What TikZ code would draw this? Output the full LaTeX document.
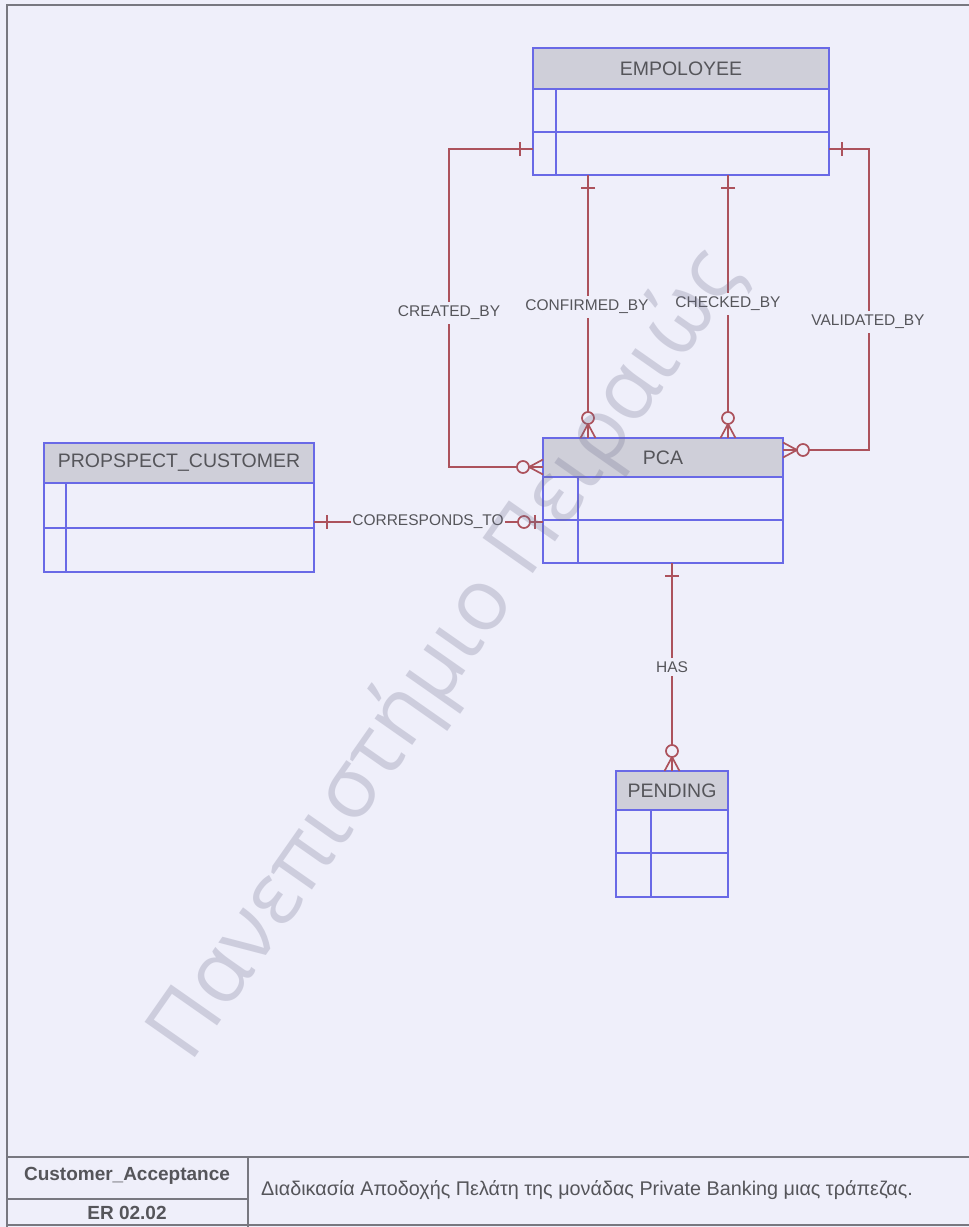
\documentclass[tikz,border=0pt]{standalone}
\usepackage{fontspec}
\setmainfont{Liberation Sans}
\newfontfamily\wmfont{Open Sans}
\usetikzlibrary{calc}
\definecolor{bgcol}{RGB}{239,239,250}
\definecolor{entblue}{RGB}{105,105,230}
\definecolor{hdrgray}{RGB}{207,207,217}
\definecolor{connred}{RGB}{172,82,92}
\definecolor{txtgray}{RGB}{85,85,90}
\definecolor{framegray}{RGB}{120,120,128}
\definecolor{wmgray}{RGB}{110,110,140}

% entity: name, x, y, width, height, header height, row sep, divider, title
\newcommand{\erent}[9]{%
  \node[entbox, minimum width=#4pt, minimum height=#5pt, anchor=north west] (#1) at (#2,#3) {};
  \fill[hdrfill] (#1.north west) rectangle ([yshift=-#6pt]#1.north east);
  \draw[entline] ([yshift=-#6pt]#1.north west) -- ([yshift=-#6pt]#1.north east);
  \draw[entline] ([yshift=-#7pt]#1.north west) -- ([yshift=-#7pt]#1.north east);
  \draw[entline] ([xshift=#8pt,yshift=-#6pt]#1.north west) -- ([xshift=#8pt]#1.south west);
  \draw[entline] (#1.north west) rectangle (#1.south east);
  \node[enttitle] (#1-title) at ($(#1.north)!0.5!([yshift=-#6pt]#1.north)$) {#9};
}
% end symbols: point, direction (pointing away from the entity)
\newcommand{\ERone}[2]{%
  \begin{scope}[shift={(#1)},rotate=#2]
    \draw[conn] (13,-7) -- (13,7);
  \end{scope}}
\newcommand{\ERzeromany}[2]{%
  \begin{scope}[shift={(#1)},rotate=#2]
    \draw[conn] (0,-7.5) -- (14,0) -- (0,7.5);
    \draw[conn] (0,0) -- (14,0);
    \draw[conn, fill=bgcol] (20,0) circle[radius=6pt];
  \end{scope}}
\newcommand{\ERzeroone}[2]{%
  \begin{scope}[shift={(#1)},rotate=#2]
    \draw[conn] (8,-7) -- (8,7);
    \draw[conn, fill=bgcol] (19,0) circle[radius=6pt];
  \end{scope}}

\begin{document}
\begin{tikzpicture}[x=1pt,y=-1pt,
  entbox/.style={rectangle, inner sep=0pt, outer sep=0pt},
  entline/.style={draw=entblue, line width=1.3pt},
  hdrfill/.style={fill=hdrgray},
  enttitle/.style={font=\fontsize{19.5}{22}\selectfont, text=txtgray, inner sep=0pt},
  conn/.style={draw=connred, line width=1.7pt},
  rellabel/.style={font=\fontsize{15.5}{18}\selectfont, text=txtgray, fill=bgcol, inner xsep=1.5pt, inner ysep=4pt},
  frameline/.style={draw=framegray, line width=1.6pt},
  tbtext/.style={text=txtgray, inner sep=0pt},
]
\useasboundingbox (0,0) rectangle (969,1227);
\fill[bgcol] (0,0) rectangle (969,1227);

% frame and title block
\draw[frameline] (7,1227) -- (7,5) -- (969,5);
\draw[frameline] (7,1157) -- (969,1157);
\draw[frameline] (248,1157) -- (248,1227);
\draw[frameline] (7,1199) -- (248,1199);
\draw[frameline] (7,1225) -- (969,1225);

% entities
\erent{emp}{533}{48}{296}{127}{41}{84}{23}{EMPOLOYEE}
\erent{pca}{543}{438}{240}{125}{39}{82}{35}{PCA}
\erent{prop}{44}{443}{270}{129}{40}{85}{22}{PROPSPECT\_CUSTOMER}
\erent{pend}{616}{771}{112}{126}{39}{82}{35}{PENDING}

% connector end points
\coordinate (c1a) at ([yshift=26pt]emp.south west);
\coordinate (c1b) at ([yshift=-29pt]pca.north west);
\coordinate (c1k) at (449,467);
\coordinate (c2a) at ([xshift=55pt]emp.south west);
\coordinate (c2b) at (c2a |- pca.north);
\coordinate (c3a) at ([xshift=195pt]emp.south west);
\coordinate (c3b) at (c3a |- pca.north);
\coordinate (c4a) at ([yshift=26pt]emp.south east);
\coordinate (c4b) at ([yshift=-12pt]pca.north east);
\coordinate (c4k) at (869,450);
\coordinate (c5a) at ([yshift=-79pt]prop.north east);
\coordinate (c5b) at (pca.west |- c5a);
\coordinate (c6a) at ([xshift=129pt]pca.south west);
\coordinate (c6b) at (c6a |- pend.north);

% connectors
\draw[conn] (c1a) -| (c1k) -- (c1b);
\draw[conn] (c2a) -- (c2b);
\draw[conn] (c3a) -- (c3b);
\draw[conn] (c4a) -| (c4k) -- (c4b);
\draw[conn] (c5a) -- (c5b);
\draw[conn] (c6a) -- (c6b);

% cardinality marks
\ERone{c1a}{180}
\ERzeromany{c1b}{180}
\ERone{c2a}{-90}
\ERzeromany{c2b}{90}
\ERone{c3a}{-90}
\ERzeromany{c3b}{90}
\ERone{c4a}{0}
\ERzeromany{c4b}{0}
\ERone{c5a}{0}
\ERzeroone{c5b}{180}
\ERone{c6a}{-90}
\ERzeromany{c6b}{90}

% relationship labels
\node[rellabel] (l1) at (449,313) {CREATED\_BY};
\node[rellabel] (l2) at (587,307) {CONFIRMED\_BY};
\node[rellabel] (l3) at (728,304) {CHECKED\_BY};
\node[rellabel] (l4) at (868,322) {VALIDATED\_BY};
\node[rellabel, inner xsep=1pt] (l5) at (428,522) {CORRESPONDS\_TO};
\node[rellabel] (l6) at (672,667) {HAS};

% title block texts
\node[tbtext, font=\bfseries\fontsize{19}{22}\selectfont] (tb1) at (127,1176) {Customer\_Acceptance};
\node[tbtext, font=\bfseries\fontsize{19}{22}\selectfont] (tb2) at (127,1213) {ER 02.02};
\node[tbtext, anchor=west, font=\fontsize{19.8}{22}\selectfont] (tb3) at (261,1190) {Διαδικασία Αποδοχής Πελάτη της μονάδας Private Banking μιας τράπεζας.};

% watermark
\node[rotate=55, inner sep=0pt, font=\wmfont\fontsize{86}{100}\selectfont, text=wmgray, opacity=0.26] (wm) at (447,655) {Πανεπιστήμιο Πειραιώς};
\end{tikzpicture}
\end{document}
